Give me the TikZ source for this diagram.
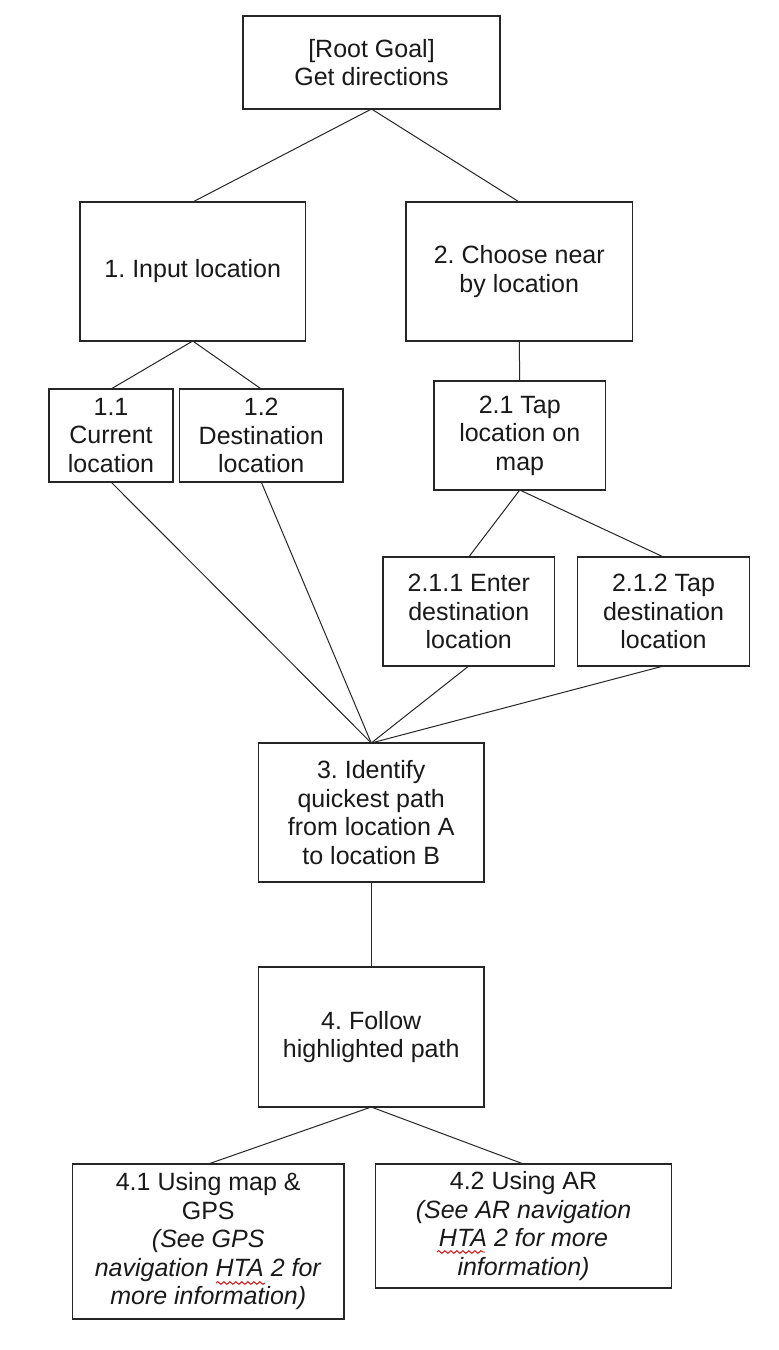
\documentclass[tikz,border=0pt]{standalone}
\usepackage{fontspec}
\setmainfont{Liberation Sans}
\usetikzlibrary{decorations.pathmorphing}
\frenchspacing
\tikzset{
  box/.style={draw=black!85, line width=1.2pt, inner sep=0pt, outer sep=0pt, align=center,
    font=\fontsize{25}{28.5}\selectfont\frenchspacing, text=black!90},
  link/.style={draw=black!85, line width=1pt},
  wave/.style={draw=red!85!black, line width=0.9pt, decorate,
    decoration={snake, amplitude=1.4pt, segment length=6pt}}
}
\newcommand\mkbox[6]{%
  \pgfmathsetmacro\bw{#4-#2}\pgfmathsetmacro\bh{#5-#3}%
  \pgfmathsetmacro\bx{(#2+#4)/2}\pgfmathsetmacro\by{(#3+#5)/2}%
  \node[box, minimum width=\bw pt, minimum height=\bh pt] (#1) at (\bx,\by) {#6};}
\begin{document}
\begin{tikzpicture}[x=1pt,y=-1pt]
\useasboundingbox[fill=white] (0,0) rectangle (779,1350);
\mkbox{root}{243}{16}{500}{109}{[Root Goal]\\Get directions}
\mkbox{b1}{80}{202}{305.5}{341}{1. Input location}
\mkbox{b2}{406}{202}{632.5}{341}{2. Choose near\\by location}
\mkbox{b11}{49}{389}{173}{482}{1.1\\Current\\location}
\mkbox{b12}{179.5}{389}{343}{482}{1.2\\Destination\\location}
\mkbox{b21}{434}{381}{605.5}{490}{2.1 Tap\\location on\\map}
\mkbox{b211}{383}{557}{554.5}{666}{2.1.1 Enter\\destination\\location}
\mkbox{b212}{577.5}{557}{749.5}{666}{2.1.2 Tap\\destination\\location}
\mkbox{b3}{258.5}{743}{484}{882}{3. Identify\\quickest path\\from location A\\to location B}
\mkbox{b4}{258.5}{967}{484}{1107}{4. Follow\\highlighted path}
\mkbox{b41}{72.5}{1164}{344}{1319}{4.1 Using map \&\\GPS\\\textit{(See GPS}\\\textit{navigation HTA 2 for}\\\textit{more information)}}
\mkbox{b42}{375.5}{1164}{671.5}{1288}{4.2 Using AR\\\textit{(See AR navigation}\\\textit{HTA 2 for more}\\\textit{information)}}
\draw[link] (root.south) -- (b1.north);
\draw[link] (root.south) -- (b2.north);
\draw[link] (b1.south) -- (b11.north);
\draw[link] (b1.south) -- (b12.north);
\draw[link] (b2.south) -- (b21.north);
\draw[link] (b21.south) -- (b211.north);
\draw[link] (b21.south) -- (b212.north);
\draw[link] (b11.south) -- (b3.north);
\draw[link] (b12.south) -- (b3.north);
\draw[link] (b211.south) -- (b3.north);
\draw[link] (b212.south) -- (b3.north);
\draw[link] (b3.south) -- (b4.north);
\draw[link] (b4.south) -- (b41.north);
\draw[link] (b4.south) -- (b42.north);
\draw[wave] (216,1283) -- (265,1283);
\draw[wave] (437,1252) -- (485,1252);
\end{tikzpicture}
\end{document}
